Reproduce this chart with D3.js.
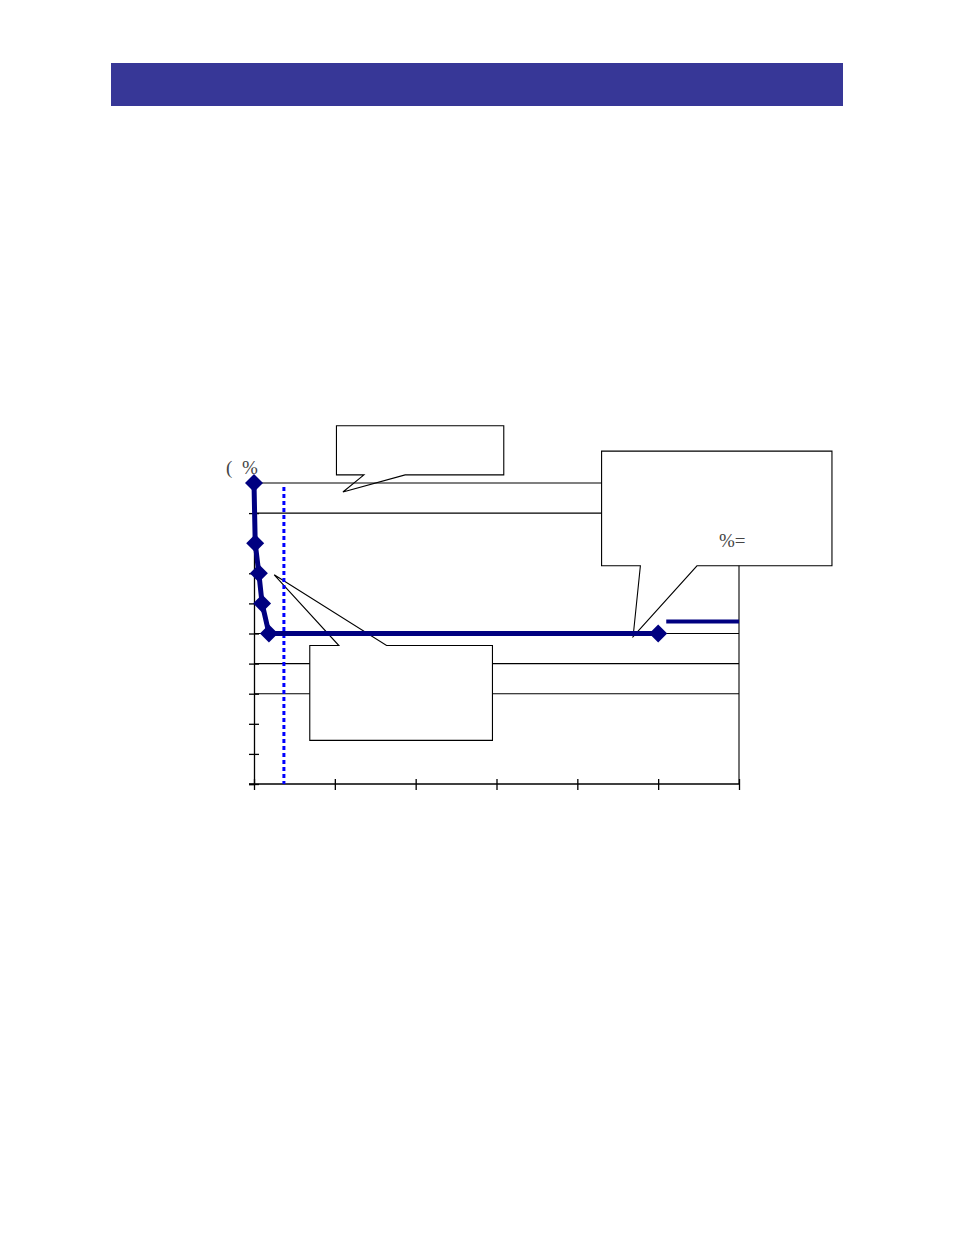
<!DOCTYPE html>
<html lang="en">
  <head>
    <meta charset="UTF-8" />
    <script src="https://d3js.org/d3.v7.min.js"></script>
    <title>chart</title>
    <style>
      body { margin: 0; background: #fff; }
      svg { display: block; }
      .label { font-family: 'Liberation Serif', 'DejaVu Serif', serif; fill: #444; }
    </style>
  </head>
  <body>
    <svg id="chart" width="954" height="1235"></svg>
  </body>
  <script>
    // data
    const xTicks = [0, 10, 20, 30, 40, 50, 60]
    const yTicks = [0, 1, 2, 3, 4, 5, 6, 7, 8, 9, 10]
    const gridValues = [9, 5, 4, 3]
    const seriesX = [0, 0.15, 0.6, 1.0, 1.85, 50]
    const seriesY = [10, 8, 7, 6, 5, 5]
    const markerX = 3.7          // dotted vertical line
    const levelLine = { x0: 51, x1: 60, y: 5.4 }

    // callouts: box (in data units) + pointer tip
    const callouts = [
      { x0: 10.2, x1: 30.9, y0: 11.9, y1: 10.27, side: 'bottom', a: 13.6, b: 18.7, tip: [11.0, 9.7] },
      { x0: 43.0, x1: 71.5, y0: 11.06, y1: 7.25, side: 'bottom', a: 47.8, b: 54.8, tip: [46.9, 4.9] },
      { x0: 6.9, x1: 29.5, y0: 4.6, y1: 1.45, side: 'top', a: 10.5, b: 16.4, tip: [2.5, 6.95] },
    ]

    const svg = d3.select('#chart')

    // header bar
    svg.append('rect')
      .attr('x', 111).attr('y', 63)
      .attr('width', 732).attr('height', 43)
      .attr('fill', '#373797')

    const x = d3.scaleLinear().domain([0, 60]).range([254, 739])
    const y = d3.scaleLinear().domain([0, 10]).range([784, 483])

    // gridlines
    svg.selectAll('.grid')
      .data(gridValues)
      .enter()
      .append('line')
      .attr('class', 'grid')
      .attr('x1', x(0)).attr('x2', x(60))
      .attr('y1', (d) => y(d)).attr('y2', (d) => y(d))
      .attr('stroke', '#000').attr('stroke-width', 1.1)

    // right frame
    svg.append('line')
      .attr('x1', x(60)).attr('x2', x(60))
      .attr('y1', y(10)).attr('y2', y(0))
      .attr('stroke', '#000').attr('stroke-width', 1.1)

    // axes
    const xAxis = svg.append('g')
      .attr('transform', 'translate(0,' + y(0) + ')')
      .call(d3.axisBottom(x).tickValues(xTicks).tickSize(6).tickFormat(''))
    const yAxis = svg.append('g')
      .attr('transform', 'translate(' + x(0) + ',0)')
      .call(d3.axisLeft(y).tickValues(yTicks).tickSize(5).tickFormat(''))
    ;[xAxis, yAxis].forEach((g) => {
      g.select('.domain').attr('stroke', '#000').attr('stroke-width', 1.3)
      g.selectAll('.tick line').attr('stroke', '#000').attr('stroke-width', 1.3)
    })
    // ticks cross the axes
    xAxis.selectAll('.tick line').attr('y1', -5)
    yAxis.selectAll('.tick line').attr('x1', 5)
    xAxis.select('.domain').attr('d', 'M' + (x(0) - 5) + ',0H' + x(60))

    // callouts
    function calloutPath(c) {
      const X0 = x(c.x0), X1 = x(c.x1), Y0 = y(c.y0), Y1 = y(c.y1)
      const A = x(c.a), B = x(c.b), T = [x(c.tip[0]), y(c.tip[1])]
      if (c.side === 'bottom') {
        return 'M' + X0 + ',' + Y0 + 'H' + X1 + 'V' + Y1 + 'H' + B +
          'L' + T[0] + ',' + T[1] + 'L' + A + ',' + Y1 + 'H' + X0 + 'Z'
      }
      return 'M' + X0 + ',' + Y0 + 'H' + A + 'L' + T[0] + ',' + T[1] +
        'L' + B + ',' + Y0 + 'H' + X1 + 'V' + Y1 + 'H' + X0 + 'Z'
    }
    svg.selectAll('.callout')
      .data(callouts)
      .enter()
      .append('path')
      .attr('class', 'callout')
      .attr('d', calloutPath)
      .attr('fill', '#fff')
      .attr('stroke', '#000')
      .attr('stroke-width', 1.1)

    // top frame over everything left of the right callout
    svg.append('line')
      .attr('x1', x(0)).attr('x2', x(43))
      .attr('y1', y(10)).attr('y2', y(10))
      .attr('stroke', '#000').attr('stroke-width', 1.1)

    // dotted marker
    svg.append('line')
      .attr('x1', x(markerX)).attr('x2', x(markerX))
      .attr('y1', y(9.87)).attr('y2', y(0))
      .attr('stroke', '#0000ff')
      .attr('stroke-width', 3)
      .attr('stroke-dasharray', '4 3')

    // level line at right
    svg.append('line')
      .attr('x1', x(levelLine.x0)).attr('x2', x(levelLine.x1))
      .attr('y1', y(levelLine.y)).attr('y2', y(levelLine.y))
      .attr('stroke', '#000080')
      .attr('stroke-width', 4)

    // series
    const pts = seriesX.map((d, i) => [d, seriesY[i]])
    svg.append('path')
      .datum(pts)
      .attr('d', d3.line().x((d) => x(d[0])).y((d) => y(d[1])))
      .attr('fill', 'none')
      .attr('stroke', '#000080')
      .attr('stroke-width', 5)
      .attr('stroke-linejoin', 'round')

    svg.selectAll('.pt')
      .data(pts)
      .enter()
      .append('path')
      .attr('class', 'pt')
      .attr('transform', (d) => 'translate(' + x(d[0]) + ',' + y(d[1]) + ')')
      .attr('d', 'M0,-9L9,0L0,9L-9,0Z')
      .attr('fill', '#000080')

    // visible text fragments
    svg.append('text')
      .attr('class', 'label')
      .attr('x', 226).attr('y', 474)
      .style('font-size', '19px')
      .text('(')
    svg.append('text')
      .attr('class', 'label')
      .attr('x', 242).attr('y', 474)
      .style('font-size', '19px')
      .text('%')
    svg.append('text')
      .attr('class', 'label')
      .attr('x', 719).attr('y', 547)
      .style('font-size', '19px')
      .text('%=')
  </script>
</html>
